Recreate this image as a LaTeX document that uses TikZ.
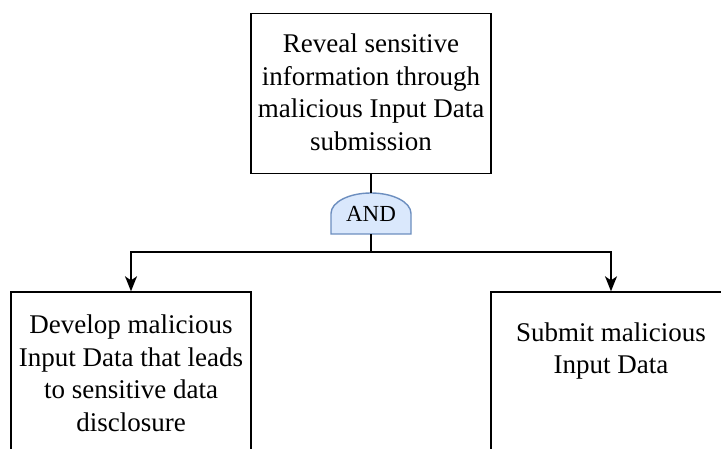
\documentclass[tikz,border=0pt]{standalone}
\usepackage{fontspec}
\setmainfont{Liberation Serif}
\usetikzlibrary{arrows.meta}
\definecolor{gatefill}{HTML}{DAE8FC}
\definecolor{gateline}{HTML}{6C8EBF}
\tikzset{
  box/.style={draw=black, line width=1.4pt, minimum width=240pt, minimum height=160pt, inner sep=0pt},
  txt/.style={align=center, font=\fontsize{27}{32.5}\selectfont, inner sep=0pt},
  wire/.style={line width=1.4pt, draw=black},
  arr/.style={wire, -{Stealth[length=15pt, width=12pt, inset=4pt]}},
  gateshape/.style={fill=gatefill, draw=gateline, line width=1.4pt},
}
\begin{document}
\begin{tikzpicture}[x=1pt, y=1pt]
  \clip (0,0) rectangle (721,449);
  \fill[white] (0,0) rectangle (721,449);

  % goal
  \node[box] (goal) at (371,355.5) {};
  \node[txt] (goaltext) at (371,356.5) {Reveal sensitive\\information through\\malicious Input Data\\submission};

  % AND gate: flat base, elliptical dome
  \draw[gateshape] (331,215) -- (331,235.5)
    arc[start angle=180, end angle=0, x radius=40pt, y radius=20.5pt]
    -- (411,215) -- cycle;
  \node[minimum width=80pt, minimum height=41pt, inner sep=0pt,
        font=\fontsize{23}{27}\selectfont] (gate) at (371,235.5) {AND};

  % sub-goals
  \node[box] (dev) at (131,77) {};
  \node[txt] (devtext) at (131,75.5) {Develop malicious\\Input Data that leads\\to sensitive data\\disclosure};
  \node[box] (sub) at (611,77) {};
  \node[txt] (subtext) at (611,98) {Submit malicious\\Input Data};

  % connectors
  \coordinate (split) at (371,197);
  \draw[wire] (goal.south) -- (gate.north);
  \draw[wire] (gate.south) -- (split);
  \draw[arr] (split) -| (dev.north);
  \draw[arr] (split) -| (sub.north);
\end{tikzpicture}
\end{document}
